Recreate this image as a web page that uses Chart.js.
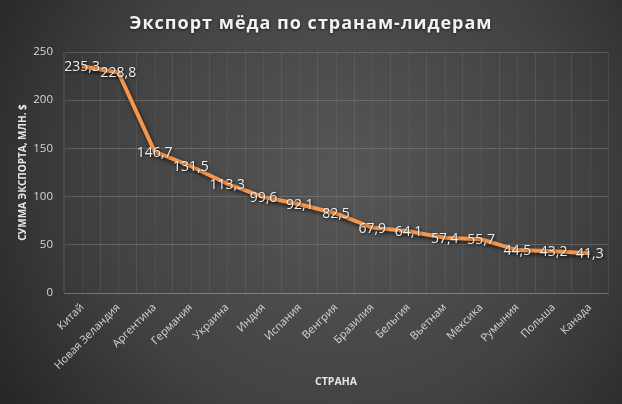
<!DOCTYPE html>
<html>
<head>
<meta charset="utf-8">
<script src="https://cdn.jsdelivr.net/npm/chart.js@4"></script>
<style>
  html, body { margin: 0; padding: 0; background: #2b2b2b; }
  #wrap { width: 622px; height: 404px; }
</style>
</head>
<body>
<div id="wrap"><canvas id="grafico"></canvas></div>
<script>
const strane = ['Китай', 'Новая Зеландия', 'Аргентина', 'Германия', 'Украина', 'Индия', 'Испания',
    'Венгрия', 'Бразилия', 'Бельгия', 'Вьетнам', 'Мексика', 'Румыния', 'Польша', 'Канада'];
const esporto = [235.3, 228.8, 146.7, 131.5, 113.3, 99.6, 92.1, 82.5, 67.9, 64.1, 57.4, 55.7, 44.5, 43.2, 41.3];
const tickY = [0, 50, 100, 150, 200, 250];

const titolo = 'Экспорт мёда по странам-лидерам';
const FONT = '"Open Sans", "Noto Sans", sans-serif';

// sfondo a gradiente radiale
const sfondo = {
    id: 'sfondo',
    beforeDraw(chart) {
        const { ctx, width, height } = chart;
        const g = ctx.createRadialGradient(340, 180, 20, 340, 180, 420);
        g.addColorStop(0, '#555555');
        g.addColorStop(0.55, '#424242');
        g.addColorStop(1, '#232323');
        ctx.save();
        ctx.fillStyle = g;
        ctx.fillRect(0, 0, width, height);
        ctx.restore();
    }
};

// linee verticali secondarie al centro delle categorie
const grigliaCentro = {
    id: 'grigliaCentro',
    beforeDatasetsDraw(chart) {
        const { ctx, chartArea, scales } = chart;
        ctx.save();
        ctx.strokeStyle = 'rgba(255,255,255,0.06)';
        ctx.lineWidth = 1;
        strane.forEach((s, i) => {
            const x = Math.round(scales.x.getPixelForValue(i)) + 0.5;
            ctx.beginPath();
            ctx.moveTo(x, chartArea.top);
            ctx.lineTo(x, chartArea.bottom);
            ctx.stroke();
        });
        ctx.restore();
    }
};

// ombra sotto la linea
const ombra = {
    id: 'ombra',
    beforeDatasetDraw(chart) {
        const ctx = chart.ctx;
        ctx.save();
        ctx.shadowColor = 'rgba(0,0,0,0.65)';
        ctx.shadowBlur = 4;
        ctx.shadowOffsetX = 1;
        ctx.shadowOffsetY = 2;
    },
    afterDatasetDraw(chart) {
        chart.ctx.restore();
    }
};

// etichette dei valori (virgola decimale)
const etichette = {
    id: 'etichette',
    afterDatasetsDraw(chart) {
        const { ctx } = chart;
        const meta = chart.getDatasetMeta(0);
        ctx.save();
        ctx.font = '14px ' + FONT;
        ctx.textAlign = 'center';
        ctx.textBaseline = 'middle';
        ctx.fillStyle = '#ededed';
        ctx.shadowColor = 'rgba(0,0,0,0.75)';
        ctx.shadowBlur = 3;
        ctx.shadowOffsetX = 1;
        ctx.shadowOffsetY = 1;
        meta.data.forEach((p, i) => {
            const txt = esporto[i].toFixed(1).replace('.', ',');
            ctx.fillText(txt, p.x, p.y + 1);
        });
        ctx.restore();
    }
};

// titolo con spaziatura tra le lettere
const titoloPlugin = {
    id: 'titoloPlugin',
    afterDraw(chart) {
        const { ctx } = chart;
        ctx.save();
        ctx.font = 'bold 18px ' + FONT;
        ctx.letterSpacing = '1px';
        ctx.textAlign = 'center';
        ctx.textBaseline = 'middle';
        ctx.fillStyle = '#f2f2f2';
        ctx.shadowColor = 'rgba(0,0,0,0.6)';
        ctx.shadowBlur = 3;
        ctx.shadowOffsetY = 1;
        ctx.fillText(titolo, 311, 24);
        ctx.restore();
    }
};

new Chart(document.getElementById('grafico'), {
    type: 'line',
    data: {
        labels: strane,
        datasets: [{
            label: 'Экспорт',
            data: esporto,
            borderColor: '#f7964a',
            borderWidth: 4,
            pointRadius: 0,
            tension: 0,
            fill: false
        }]
    },
    options: {
        responsive: true,
        maintainAspectRatio: false,
        animation: false,
        layout: { padding: { top: 52, right: 14, bottom: 0, left: 0 } },
        plugins: {
            legend: { display: false },
            tooltip: { enabled: false }
        },
        scales: {
            x: {
                offset: true,
                afterFit: s => { s.height = 111; },
                grid: {
                    offset: true,
                    color: 'rgba(255,255,255,0.08)',
                    drawTicks: false
                },
                border: { color: 'rgba(255,255,255,0.16)' },
                ticks: {
                    color: '#d4d4d4',
                    font: { family: FONT, size: 11 },
                    minRotation: 45,
                    maxRotation: 45,
                    padding: 8,
                    autoSkip: false
                },
                title: {
                    display: true,
                    text: 'СТРАНА',
                    color: '#e6e6e6',
                    font: { family: FONT, size: 10.5, weight: 'bold' },
                    padding: { top: 4, bottom: 16 }
                }
            },
            y: {
                min: 0,
                max: 250,
                afterFit: s => { s.width = 64; },
                afterBuildTicks: s => { s.ticks = tickY.map(v => ({ value: v })); },
                grid: {
                    color: 'rgba(255,255,255,0.16)',
                    drawTicks: false
                },
                border: { color: 'rgba(255,255,255,0.08)' },
                ticks: {
                    color: '#d4d4d4',
                    font: { family: FONT, size: 11.5 },
                    padding: 11
                },
                title: {
                    display: true,
                    text: 'СУММА ЭКСПОРТА, МЛН. $',
                    color: '#e6e6e6',
                    font: { family: FONT, size: 10, weight: 'bold' },
                    padding: { top: 17, bottom: 0 }
                }
            }
        }
    },
    plugins: [sfondo, grigliaCentro, ombra, etichette, titoloPlugin]
});
</script>
</body>
</html>
